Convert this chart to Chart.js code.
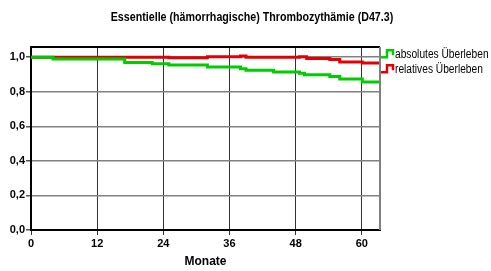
<!DOCTYPE html>
<html>
<head>
<meta charset="utf-8">
<script src="https://cdn.jsdelivr.net/npm/chart.js@4/dist/chart.umd.min.js"></script>
<style>
    html, body { margin: 0; padding: 0; background: #fff; }
    #wrap { width: 491px; height: 271px; }
</style>
</head>
<body>
<div id="wrap"><canvas id="chart" width="491" height="271"></canvas></div>
<script>
// Daten (Monate / Überlebensrate)
const titleText = 'Essentielle (hämorrhagische) Thrombozythämie (D47.3)';
const xTicks = [0, 12, 24, 36, 48, 60];
const yTicks = [0, 0.2, 0.4, 0.6, 0.8, 1.0];

const monthsAbs = [0, 4, 17, 22, 25, 32, 38, 39, 44, 48.7, 49.6, 54.2, 56, 60.1, 63.3];
const survAbs   = [1.0, 0.99, 0.97, 0.962, 0.955, 0.943, 0.933, 0.924, 0.914, 0.907, 0.899, 0.889, 0.874, 0.856, 0.856];

const monthsRel = [0, 25, 32, 38, 39, 48.7, 50, 54.2, 56, 60.1, 63.3];
const survRel   = [1.0, 0.997, 1.003, 1.007, 0.999, 1.003, 0.992, 0.986, 0.972, 0.966, 0.966];

const legendLabels = ['absolutes Überleben', 'relatives Überleben'];
const colAbs = '#00cc00';
const colRel = '#e40000';

const sans = "'Liberation Sans', Arial, sans-serif";

function toPoints(xs, ys) {
    return xs.map((x, i) => ({ x: x, y: ys[i] }));
}

// schmale Schrift nachbilden: horizontal gestauchter Text
function narrowText(ctx, text, x, y, sx) {
    ctx.save();
    ctx.translate(x, y);
    ctx.scale(sx, 1);
    ctx.fillText(text, 0, 0);
    ctx.restore();
}

// Titel, Rahmen und Legende selbst zeichnen
const extras = {
    id: 'extras',
    afterDraw(chart) {
        const ctx = chart.ctx;
        const a = chart.chartArea;
        ctx.save();
        // Rahmen oben / rechts
        ctx.lineWidth = 2;
        ctx.strokeStyle = '#000';
        ctx.beginPath();
        ctx.moveTo(a.left, a.top);
        ctx.lineTo(a.right, a.top);
        ctx.stroke();
        ctx.strokeStyle = '#808080';
        ctx.beginPath();
        ctx.moveTo(a.right, a.top);
        ctx.lineTo(a.right, a.bottom);
        ctx.stroke();

        // Titel
        ctx.fillStyle = '#000';
        ctx.font = 'bold 12px ' + sans;
        ctx.textAlign = 'center';
        ctx.textBaseline = 'middle';
        narrowText(ctx, titleText, 252, 18, 0.89);

        // Legende
        const y0 = chart.scales.y.getPixelForValue(1.0);
        const items = [
            { c: colAbs, t: legendLabels[0], y: y0 - 3 },
            { c: colRel, t: legendLabels[1], y: y0 + 12 }
        ];
        ctx.lineWidth = 2.5;
        ctx.textAlign = 'left';
        ctx.font = '12px ' + sans;
        items.forEach(it => {
            const x = a.right + 1;
            ctx.strokeStyle = it.c;
            ctx.beginPath();
            ctx.moveTo(x, it.y + 3);
            ctx.lineTo(x + 6, it.y + 3);
            ctx.lineTo(x + 6, it.y - 4);
            ctx.lineTo(x + 12, it.y - 4);
            ctx.lineTo(x + 12, it.y + 1);
            ctx.stroke();
            ctx.fillStyle = '#000';
            narrowText(ctx, it.t, x + 14, it.y, 0.85);
        });
        ctx.restore();
    }
};

new Chart(document.getElementById('chart'), {
    type: 'line',
    data: {
        datasets: [{
            data: toPoints(monthsAbs, survAbs),
            borderColor: colAbs,
            borderWidth: 3,
            pointRadius: 0,
            stepped: true,
            fill: false
        }, {
            data: toPoints(monthsRel, survRel),
            borderColor: colRel,
            borderWidth: 3,
            pointRadius: 0,
            stepped: true,
            fill: false
        }]
    },
    options: {
        responsive: false,
        animation: false,
        layout: { padding: { left: 0, right: 111, top: 47, bottom: 0 } },
        plugins: {
            legend: { display: false },
            tooltip: { enabled: false },
            title: { display: false }
        },
        scales: {
            x: {
                type: 'linear',
                min: 0,
                max: 63.3,
                afterBuildTicks: s => { s.ticks = xTicks.map(v => ({ value: v })); },
                afterFit: s => { s.height = 41; },
                grid: { color: '#333', lineWidth: 1, tickLength: 5, tickColor: '#333' },
                border: { color: '#000', width: 2 },
                ticks: {
                    color: '#000',
                    padding: 2,
                    maxRotation: 0,
                    font: { family: sans, size: 11, weight: 'bold' }
                },
                title: {
                    display: true,
                    text: 'Monate',
                    color: '#000',
                    padding: { top: 0, bottom: 2 },
                    font: { family: sans, size: 12, weight: 'bold' }
                }
            },
            y: {
                min: 0,
                max: 1.059,
                afterBuildTicks: s => { s.ticks = yTicks.map(v => ({ value: v })); },
                afterFit: s => { s.width = 31; },
                grid: { color: '#808080', lineWidth: 1.5, tickLength: 5, tickColor: '#555' },
                border: { color: '#000', width: 2 },
                ticks: {
                    color: '#000',
                    padding: 1,
                    font: { family: sans, size: 11, weight: 'bold' },
                    callback: v => v.toFixed(1).replace('.', ',')
                }
            }
        }
    },
    plugins: [extras]
});
</script>
</body>
</html>
